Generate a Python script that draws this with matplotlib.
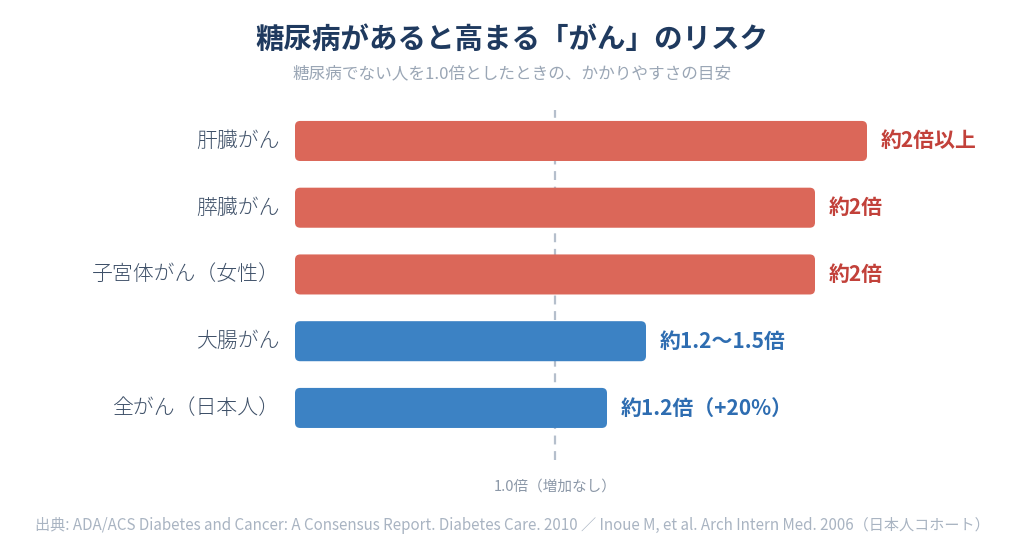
import matplotlib
matplotlib.use("Agg")
import matplotlib.pyplot as plt
from matplotlib.patches import FancyBboxPatch

plt.rcParams['font.family'] = ['Noto Sans CJK JP', 'DejaVu Sans']

categories = ["肝臓がん", "膵臓がん", "子宮体がん（女性）", "大腸がん", "全がん（日本人）"]
values = [2.2, 2.0, 2.0, 1.35, 1.2]
value_labels = ["約2倍以上", "約2倍", "約2倍", "約1.2〜1.5倍", "約1.2倍（+20%）"]
groups = ["high", "high", "high", "mid", "mid"]

bar_colors = {"high": "#DB6759", "mid": "#3C82C4"}
text_colors = {"high": "#C2413A", "mid": "#2E6DB1"}

W, H = 1024, 551
fig = plt.figure(figsize=(W / 100, H / 100), dpi=100)
# axes: x from 295px to 1000px, y from 110px to 460px (top-down)
ax = fig.add_axes([295 / W, (H - 460) / H, (1000 - 295) / W, 350 / H])
x_max = (1000 - 295) / 260
ax.set_xlim(0, x_max)
ax.set_ylim(4.78, -0.464)
ax.axis("off")

ypos = list(range(len(categories)))
bars = ax.barh(ypos, values, height=0.6, color=[bar_colors[g] for g in groups], zorder=2)

# replace plain bars with rounded ones
aspect = 260 / 66.75
for b in bars:
    x0, y0 = b.get_x(), b.get_y()
    w, h = b.get_width(), b.get_height()
    fc = b.get_facecolor()
    b.set_visible(False)
    ax.add_patch(FancyBboxPatch((x0, y0), w, h,
                                boxstyle="round,pad=0,rounding_size=0.02",
                                mutation_aspect=aspect, fc=fc, ec="none", zorder=2))

ax.axvline(1.0, color="#B5BFCC", lw=1.6, ls=(0, (4, 3)), zorder=1)

for y, v, lab, cat, g in zip(ypos, values, value_labels, categories, groups):
    ax.text(v + 14 / 260, y, lab, ha="left", va="center", fontsize=15,
            fontweight="bold", color=text_colors[g])
    ax.text(-15 / 260, y, cat, ha="right", va="center", fontsize=15,
            fontweight="light", color="#3E5068")

fig.text(0.5, 1 - 40 / H, "糖尿病があると高まる「がん」のリスク", ha="center", va="center",
         fontsize=20.5, fontweight="bold", color="#1F3A5F")
fig.text(0.5, 1 - 74 / H, "糖尿病でない人を1.0倍としたときの、かかりやすさの目安", ha="center",
         va="center", fontsize=12, color="#9AA6B5")
fig.text(555 / W, 1 - 487 / H, "1.0倍（増加なし）", ha="center", va="center",
         fontsize=10.5, color="#8C98A8")
fig.text(0.5, 1 - 525 / H,
         "出典: ADA/ACS Diabetes and Cancer: A Consensus Report. Diabetes Care. 2010 ／ "
         "Inoue M, et al. Arch Intern Med. 2006（日本人コホート）",
         ha="center", va="center", fontsize=10.9, color="#A9B4C2")

fig.savefig("out.png", dpi=100, facecolor="white")
